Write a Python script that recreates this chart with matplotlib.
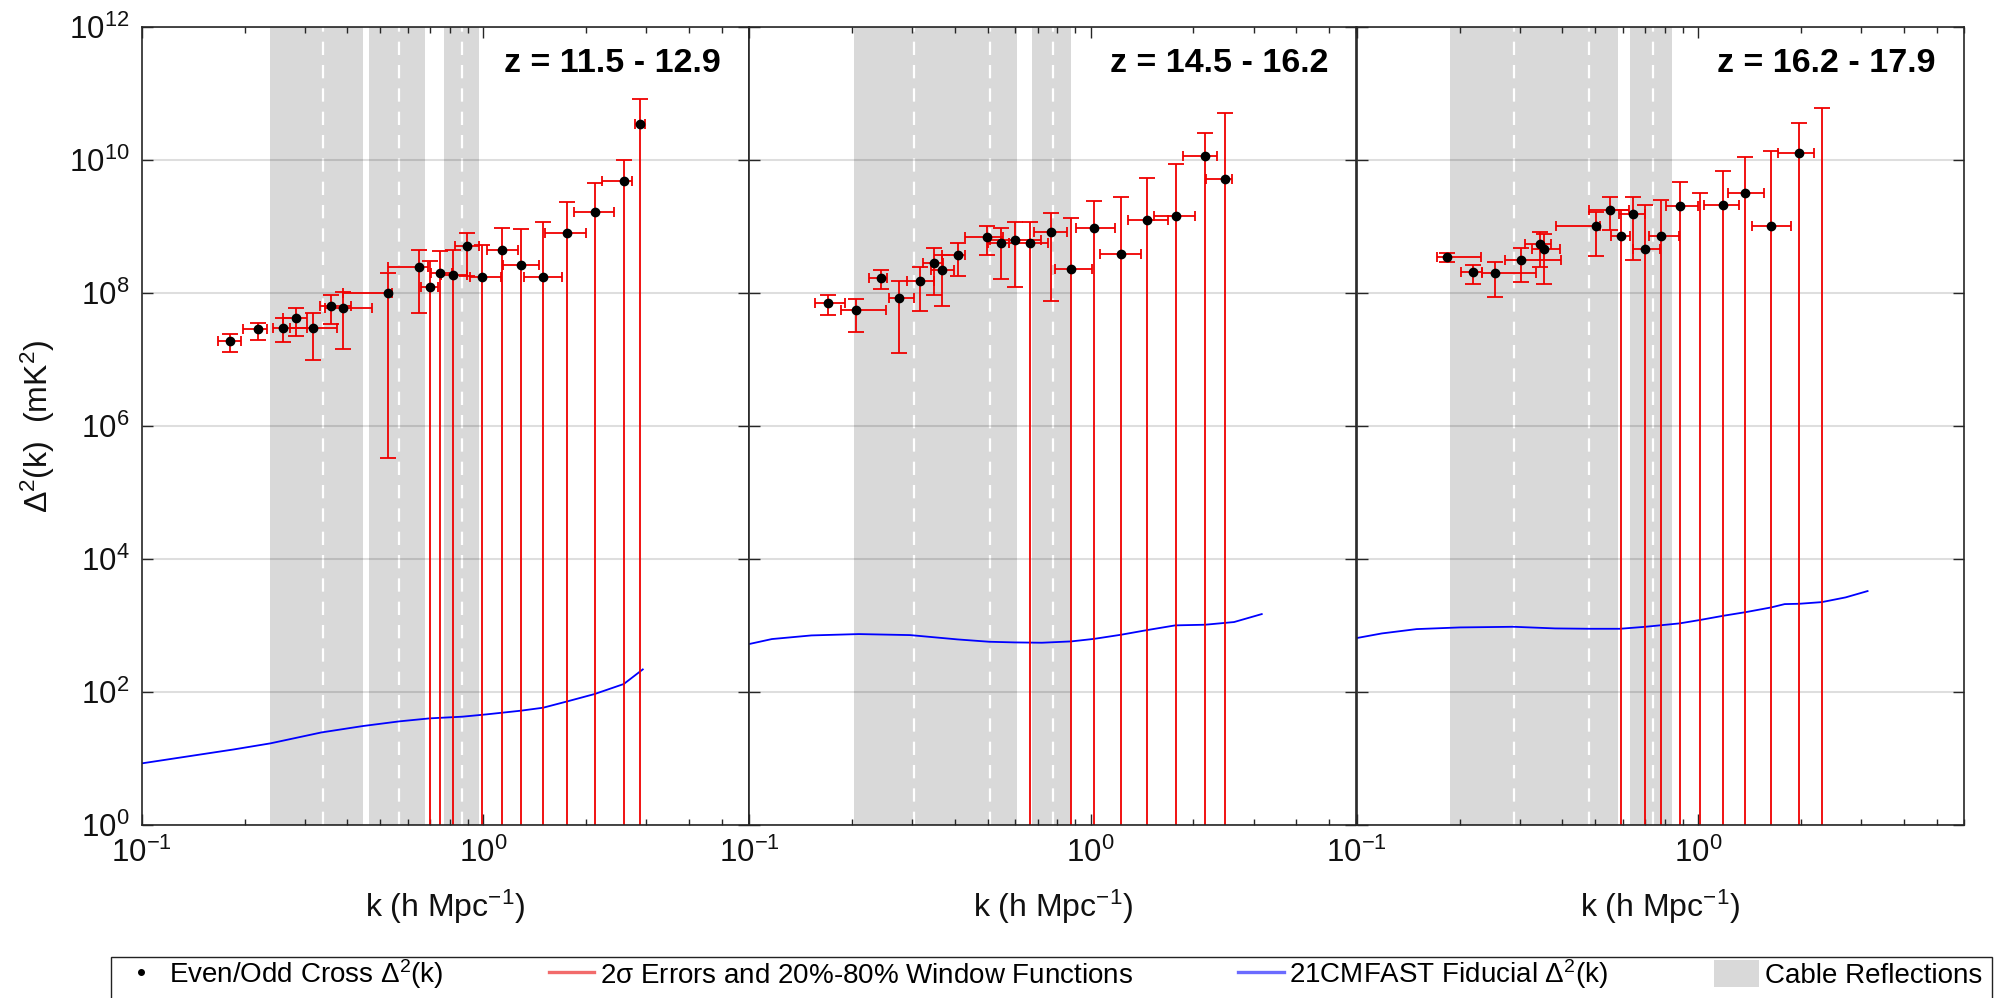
import numpy as np
import matplotlib
matplotlib.use("Agg")
import matplotlib.pyplot as plt
from matplotlib.lines import Line2D
from matplotlib.patches import Patch, Rectangle
from matplotlib.ticker import LogLocator, NullFormatter, NullLocator, FixedLocator

plt.rcParams.update({
    "font.family": ["Liberation Sans", "DejaVu Sans"],
    "mathtext.fontset": "custom",
    "mathtext.rm": "Liberation Sans",
    "mathtext.it": "Liberation Sans:italic",
    "mathtext.bf": "Liberation Sans:bold",
    "mathtext.sf": "Liberation Sans",
    "mathtext.default": "regular",
})

# ---------------- data ----------------
titles = ["z = 11.5 - 12.9", "z = 14.5 - 16.2", "z = 16.2 - 17.9"]
xlabel = "k (h Mpc$^{-1}$)"
ylabel = "Δ$^2$(k)  (mK$^2$)"
legend_labels = ["Even/Odd Cross Δ$^2$(k)",
                 "2$\\sigma$ Errors and 20%-80% Window Functions",
                 "21CMFAST Fiducial Δ$^2$(k)",
                 "Cable Reflections"]
nan = np.nan

# Panel 1 (z = 11.5 - 12.9); nan in lower = error bar extends below the axis
p1_k     = [0.1815, 0.219, 0.260, 0.2825, 0.317, 0.359, 0.389, 0.525, 0.649, 0.697, 0.747,
            0.813, 0.895, 0.994, 1.136, 1.287, 1.496, 1.762, 2.117, 2.577, 2.871]
p1_d     = [1.89e7, 2.86e7, 3.0e7, 4.2e7, 3.0e7, 6.44e7, 6.08e7, 1.01e8, 2.5e8, 1.22e8, 2.03e8,
            1.91e8, 5.06e8, 1.74e8, 4.5e8, 2.64e8, 1.74e8, 8.04e8, 1.68e9, 4.82e9, 3.45e10]
p1_hi    = [2.44e7, 3.57e7, 4.25e7, 6.08e7, 5.06e7, 9.55e7, 1.04e8, 2.0e8, 4.5e8, 3.0e8, 4.3e8,
            4.5e8, 8.04e8, 5.25e8, 9.44e8, 9.23e8, 1.16e9, 2.33e9, 4.5e9, 1.02e10, 8.22e10]
p1_lo    = [1.29e7, 2.0e7, 1.82e7, 2.25e7, 9.9e6, 3.45e7, 1.43e7, 3.37e5, 5.0e7, nan, nan,
            nan, 1.82e8, nan, nan, nan, nan, nan, nan, nan, nan]
p1_klo   = [0.167, 0.198, 0.242, 0.2585, 0.2715, 0.3327, 0.345, 0.3896, 0.525, 0.6566, 0.7016,
            0.75, 0.827, 0.912, 1.023, 1.14, 1.317, 1.516, 1.845, 2.224, 2.78]
p1_khi   = [0.195, 0.233, 0.305, 0.305, 0.3727, 0.4087, 0.4735, 0.54, 0.6885, 0.7365, 0.811,
            0.897, 0.974, 1.129, 1.266, 1.452, 1.70, 2.003, 2.42, 2.733, 2.967]

# Panel 2 (z = 14.5 - 16.2)
p2_k     = [0.170, 0.2063, 0.2427, 0.275, 0.3175, 0.3476, 0.3665, 0.410, 0.499, 0.5466,
            0.600, 0.664, 0.766, 0.878, 1.024, 1.228, 1.463, 1.777, 2.165, 2.48]
p2_d     = [7.23e7, 5.55e7, 1.68e8, 8.41e7, 1.5e8, 2.86e8, 2.2e8, 3.7e8, 6.98e8, 5.68e8,
            6.3e8, 5.68e8, 8.22e8, 2.3e8, 9.55e8, 3.92e8, 1.26e9, 1.47e9, 1.16e10, 5.24e9]
p2_hi    = [9.55e7, 8.32e7, 2.2e8, 1.5e8, 2.52e8, 4.82e8, 3.74e8, 5.68e8, 1.04e9, 9.66e8,
            1.16e9, 1.16e9, 1.59e9, 1.34e9, 2.47e9, 2.77e9, 5.36e9, 8.91e9, 2.55e10, 5.06e10]
p2_lo    = [4.66e7, 2.61e7, 1.17e8, 1.24e7, 5.42e7, 9.55e7, 6.31e7, 1.82e8, 3.78e8, 1.63e8,
            1.23e8, nan, 7.59e7, nan, nan, nan, nan, nan, nan, nan]
p2_klo   = [0.1556, 0.1865, 0.224, 0.257, 0.29, 0.323, 0.341, 0.3666, 0.43, 0.502,
            0.507, 0.5765, 0.685, 0.789, 0.906, 1.069, 1.288, 1.535, 1.86, 2.17]
p2_khi   = [0.191, 0.251, 0.254, 0.305, 0.347, 0.37, 0.397, 0.43, 0.554, 0.5765,
            0.714, 0.748, 0.855, 1.008, 1.179, 1.406, 1.68, 2.025, 2.344, 2.594]

# Panel 3 (z = 16.2 - 17.9); nan value = negative power (only upper limit shown)
p3_k     = [0.1836, 0.2196, 0.2533, 0.3035, 0.344, 0.3535, 0.503, 0.551, 0.593, 0.643,
            0.70, 0.78, 0.882, 1.009, 1.185, 1.371, 1.634, 1.976, 2.30]
p3_d     = [3.53e8, 2.07e8, 1.98e8, 3.18e8, 5.42e8, 4.6e8, 1.01e9, 1.8e9, 7.31e8, 1.55e9,
            4.6e8, 7.31e8, 2.02e9, nan, 2.1e9, 3.26e9, 1.01e9, 1.29e10, nan]
p3_hi    = [4.01e8, 2.64e8, 2.96e8, 4.82e8, 8.22e8, 7.74e8, 1.68e9, 2.8e9, 1.8e9, 2.77e9,
            2.1e9, 2.52e9, 4.66e9, 3.26e9, 6.98e9, 1.1e10, 1.37e10, 3.66e10, 6.08e10]
p3_lo    = [2.9e8, 1.37e8, 8.81e7, 1.48e8, 2.44e8, 1.37e8, 3.66e8, 9.02e8, nan, 3.14e8,
            nan, nan, nan, nan, nan, nan, nan, nan, nan]
p3_klo   = [0.1716, 0.2017, 0.233, 0.2724, 0.3108, 0.3266, 0.383, 0.4787, 0.5543, 0.5875,
            0.645, 0.7188, 0.803, nan, 1.036, 1.22, 1.432, 1.707, nan]
p3_khi   = [0.2318, 0.2334, 0.334, 0.396, 0.3703, 0.3949, 0.515, 0.6266, 0.632, 0.70,
            0.773, 0.877, 1.0, nan, 1.32, 1.56, 1.864, 2.176, nan]

# 21CMFAST fiducial curves
f1_k = [0.1, 0.186, 0.238, 0.336, 0.444, 0.567, 0.697, 0.868, 1.02, 1.287, 1.496, 1.762, 2.117, 2.577, 2.93]
f1_d = [8.45, 13.7, 16.9, 24.7, 30.8, 36.2, 40.2, 42.6, 46.1, 52.4, 58.1, 72.4, 93.3, 132, 219]
f2_k = [0.1, 0.1167, 0.1523, 0.2096, 0.2964, 0.408, 0.505, 0.6, 0.72, 0.878, 1.024, 1.228,
        1.463, 1.77, 2.165, 2.63, 3.17]
f2_d = [527, 627, 711, 745, 719, 619, 571, 558, 552, 578, 631, 728, 855, 1007, 1030, 1130, 1489]
f3_k = [0.1, 0.1185, 0.1497, 0.2005, 0.288, 0.381, 0.482, 0.59, 0.70, 0.882, 1.009, 1.185,
        1.38, 1.634, 1.79, 1.976, 2.30, 2.70, 3.13]
f3_d = [649, 762, 885, 938, 959, 906, 895, 895, 959, 1079, 1211, 1406, 1596, 1875, 2104,
        2128, 2254, 2655, 3304]

# Cable reflection bands and their centre k
c1_bands = [(0.238, 0.444), (0.463, 0.673), (0.767, 0.974)]
c1_centres = [0.339, 0.567, 0.868]
c2_bands = [(0.2025, 0.608), (0.673, 0.878)]
c2_centres = [0.304, 0.506, 0.778]
c3_bands = [(0.1874, 0.582), (0.632, 0.839)]
c3_centres = [0.288, 0.480, 0.736]

x_limits = (0.1, 6.0)
y_limits = (1e0, 1e12)
y_ticks = [1e0, 1e2, 1e4, 1e6, 1e8, 1e10, 1e12]

panels = [
    dict(k=p1_k, d=p1_d, hi=p1_hi, lo=p1_lo, klo=p1_klo, khi=p1_khi, fk=f1_k, fd=f1_d,
         bands=c1_bands, centres=c1_centres),
    dict(k=p2_k, d=p2_d, hi=p2_hi, lo=p2_lo, klo=p2_klo, khi=p2_khi, fk=f2_k, fd=f2_d,
         bands=c2_bands, centres=c2_centres),
    dict(k=p3_k, d=p3_d, hi=p3_hi, lo=p3_lo, klo=p3_klo, khi=p3_khi, fk=f3_k, fd=f3_d,
         bands=c3_bands, centres=c3_centres),
]

# ---------------- style ----------------
W, H = 2011, 998
RED = "#f00000"
BLUE = "#0000ff"
GRAY = "#d9d9d9"
AXC = "#262626"
FLOOR = 1e-3

fig = plt.figure(figsize=(W / 100, H / 100), dpi=100)

ax_left = [141.7, 749.0, 1356.7]
ax_w = 607.4
ax_top, ax_bot = 27.3, 825.0

for i, p in enumerate(panels):
    ax = fig.add_axes([ax_left[i] / W, 1 - ax_bot / H, ax_w / W, (ax_bot - ax_top) / H])
    ax.set_xscale("log")
    ax.set_yscale("log")
    ax.set_xlim(*x_limits)
    ax.set_ylim(*y_limits)
    ax.set_axisbelow(True)

    for (a, b) in p["bands"]:
        ax.axvspan(a, b, color=GRAY, lw=0, zorder=0.2)
    for c in p["centres"]:
        ax.axvline(c, color="white", lw=1.6, ls=(0, (6, 4.5)), zorder=0.3)

    ax.grid(True, axis="y", which="major", color="k", alpha=0.13, lw=1.5)

    # fiducial curve
    ax.plot(p["fk"], p["fd"], color=BLUE, lw=1.3, zorder=2)

    k = np.array(p["k"], float)
    d = np.array(p["d"], float)
    hi = np.array(p["hi"], float)
    lo = np.array(p["lo"], float)
    klo = np.array(p["klo"], float)
    khi = np.array(p["khi"], float)

    yc = np.where(np.isnan(d), hi, d)
    lower = np.where(np.isnan(lo), FLOOR, lo)
    ax.errorbar(k, yc, yerr=[yc - lower, hi - yc], fmt="none", ecolor=RED,
                elinewidth=1.3, capsize=6, capthick=1.3, zorder=3)
    m = ~np.isnan(d) & ~np.isnan(klo)
    ax.errorbar(k[m], d[m], xerr=[k[m] - klo[m], khi[m] - k[m]], fmt="none", ecolor=RED,
                elinewidth=1.3, capsize=3.5, capthick=1.3, zorder=3)
    md = ~np.isnan(d)
    ax.plot(k[md], d[md], "o", color="k", ms=6, zorder=4)

    # axes styling
    ax.xaxis.set_major_locator(LogLocator(base=10, numticks=10))
    ax.xaxis.set_minor_locator(LogLocator(base=10, subs=np.arange(2, 10), numticks=20))
    ax.xaxis.set_minor_formatter(NullFormatter())
    ax.yaxis.set_major_locator(FixedLocator(y_ticks))
    ax.yaxis.set_minor_locator(NullLocator())
    ax.tick_params(which="both", direction="in", top=True, right=True, color=AXC,
                   labelsize=22.5, labelcolor="#111111", pad=9, width=1.0)
    ax.tick_params(which="major", length=8)
    ax.tick_params(which="minor", length=4)
    if i > 0:
        ax.tick_params(labelleft=False)
    for s in ax.spines.values():
        s.set_color(AXC)
        s.set_linewidth(1.2)
        s.set_zorder(5)

    ax.text(0.9537, 0.955, titles[i], transform=ax.transAxes, ha="right", va="center",
            fontsize=24.5, fontweight="bold", color="k", zorder=6)

    fig.text((ax_left[i] + ax_w / 2) / W, 1 - 907 / H, xlabel, ha="center", va="center",
             fontsize=23, color="#111111")

fig.text(38 / W, 1 - 426 / H, ylabel, rotation=90, ha="center", va="center",
         fontsize=23, color="#111111")

# ---------------- legend ----------------
frame = Rectangle((111 / W, -0.02), (1992 - 111) / W, 0.02 + (998 - 957) / H,
                  transform=fig.transFigure, fill=False, edgecolor="#222222", lw=1.0,
                  clip_on=False)
fig.add_artist(frame)

handles = [
    Line2D([], [], ls="none", marker="o", color="k", ms=4),
    Line2D([], [], color="#f26b6b", lw=2.4),
    Line2D([], [], color="#6b6bff", lw=2.4),
    Patch(facecolor=GRAY, edgecolor="none"),
]
fig.legend(handles, legend_labels, loc="center left",
           bbox_to_anchor=(118 / W, 1 - 974 / H), ncol=4, frameon=False,
           fontsize=20, handlelength=1.63, handletextpad=0.2, columnspacing=3.8,
           handleheight=1.1, borderpad=0, borderaxespad=0)

fig.savefig("out.png", dpi=100)
